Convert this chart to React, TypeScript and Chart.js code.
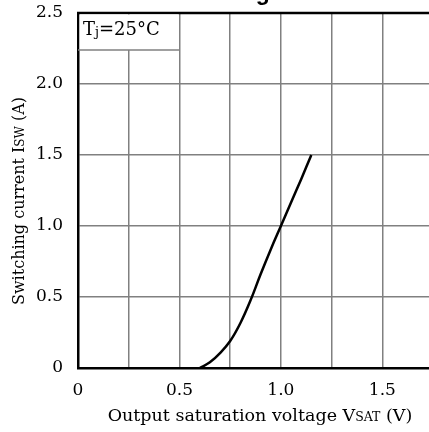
import React, { useEffect, useRef } from "react";
import { Chart, registerables } from "chart.js";

Chart.register(...registerables);

const voltage = [0.6, 0.65, 0.7, 0.75, 0.8, 0.85, 0.9, 0.95, 1.0, 1.05, 1.1, 1.15];
const current = [0, 0.04, 0.105, 0.19, 0.315, 0.475, 0.66, 0.835, 1.0, 1.165, 1.33, 1.5];
const xTicks = [0, 0.25, 0.5, 0.75, 1.0, 1.25, 1.5];
const xLabels: Record<string, string> = { "0": "0", "0.5": "0.5", "1": "1.0", "1.5": "1.5" };
const yTicks = [0, 0.5, 1.0, 1.5, 2.0, 2.5];
const yLabels = ["0", "0.5", "1.0", "1.5", "2.0", "2.5"];
const titleText = "Saturation voltage";
const legendMain = "T";
const legendSub = "j";
const legendRest = "=25°C";

const SERIF = "'DejaVu Serif', serif";

function drawRich(ctx: CanvasRenderingContext2D, parts: { t: string; size: number; dy?: number }[], x: number, y: number, align: "center" | "left") {
  let total = 0;
  for (const p of parts) {
    ctx.font = `${p.size}px ${SERIF}`;
    total += ctx.measureText(p.t).width;
  }
  let cx = align === "center" ? x - total / 2 : x;
  for (const p of parts) {
    ctx.font = `${p.size}px ${SERIF}`;
    ctx.fillText(p.t, cx, y + (p.dy || 0));
    cx += ctx.measureText(p.t).width;
  }
}

const decorPlugin = {
  id: "decor",
  afterDraw(chart: any) {
    const { ctx, chartArea } = chart;
    const { left, top, right } = chartArea;
    ctx.save();
    // top border
    ctx.strokeStyle = "#000";
    ctx.lineWidth = 2.5;
    ctx.beginPath();
    ctx.moveTo(left - 1, top);
    ctx.lineTo(right, top);
    ctx.stroke();
    // legend box
    const bx2 = chart.scales.x.getPixelForValue(0.5);
    const by2 = top + 37;
    ctx.fillStyle = "#fff";
    ctx.fillRect(left + 1.5, top + 1.5, bx2 - left - 2.5, by2 - top - 1.5);
    ctx.strokeStyle = "#808080";
    ctx.lineWidth = 1.5;
    ctx.beginPath();
    ctx.moveTo(left, by2);
    ctx.lineTo(bx2, by2);
    ctx.stroke();
    ctx.fillStyle = "#000";
    ctx.textBaseline = "alphabetic";
    drawRich(ctx, [
      { t: legendMain, size: 18 },
      { t: legendSub, size: 13, dy: 1 },
      { t: legendRest, size: 18 },
    ], left + 5, top + 22, "left");
    // x axis title
    drawRich(ctx, [
      { t: "Output saturation voltage V", size: 17.5 },
      { t: "SAT", size: 12.5 },
      { t: " (V)", size: 17.5 },
    ], 260, 421, "center");
    // y axis title
    ctx.translate(24, 201);
    ctx.rotate(-Math.PI / 2);
    drawRich(ctx, [
      { t: "Switching current I", size: 16 },
      { t: "SW", size: 12 },
      { t: " (A)", size: 16 },
    ], 0, 0, "center");
    ctx.restore();
    // cut-off title
    ctx.save();
    ctx.fillStyle = "#000";
    ctx.font = "bold 23px 'Liberation Sans', Arial, sans-serif";
    ctx.textBaseline = "alphabetic";
    ctx.fillText(titleText, 82, 0);
    ctx.restore();
  },
};

export default function App() {
  const ref = useRef<HTMLCanvasElement>(null);
  useEffect(() => {
    document.body.style.margin = "0";
    const chart = new Chart(ref.current!, {
      type: "line",
      data: {
        datasets: [
          {
            data: voltage.map((v, i) => ({ x: v, y: current[i] })),
            borderColor: "#000",
            borderWidth: 2.5,
            pointRadius: 0,
            tension: 0.4,
            fill: false,
          },
        ],
      },
      options: {
        animation: false,
        responsive: false,
        events: [],
        layout: { padding: { top: 13, right: 0, left: 0, bottom: 0 } },
        plugins: { legend: { display: false }, tooltip: { enabled: false } },
        scales: {
          x: {
            type: "linear",
            min: 0,
            max: 1.73,
            afterBuildTicks: (s: any) => {
              s.ticks = xTicks.map((v) => ({ value: v }));
            },
            afterFit: (s: any) => {
              s.height = 64;
              s.paddingLeft = 0;
              s.paddingRight = 0;
            },
            ticks: {
              autoSkip: false,
              maxRotation: 0,
              padding: 12,
              color: "#000",
              font: { family: SERIF, size: 17 },
              callback: (v: any) => xLabels[String(Number(v))] ?? "",
            },
            grid: { color: "#808080", lineWidth: 1.5, drawTicks: false },
            border: { color: "#000", width: 2.5 },
          },
          y: {
            type: "linear",
            min: 0,
            max: 2.5,
            afterBuildTicks: (s: any) => {
              s.ticks = yTicks.map((v) => ({ value: v }));
            },
            afterFit: (s: any) => {
              s.width = 78;
              s.paddingTop = 0;
              s.paddingBottom = 0;
            },
            ticks: {
              padding: 15,
              color: "#000",
              font: { family: SERIF, size: 17 },
              callback: (_v: any, i: number) => yLabels[i],
            },
            grid: { color: "#808080", lineWidth: 1.5, drawTicks: false },
            border: { color: "#000", width: 2.5 },
          },
        },
      },
      plugins: [decorPlugin],
    });
    return () => chart.destroy();
  }, []);
  return <canvas ref={ref} width={429} height={432} style={{ display: "block" }} />;
}
